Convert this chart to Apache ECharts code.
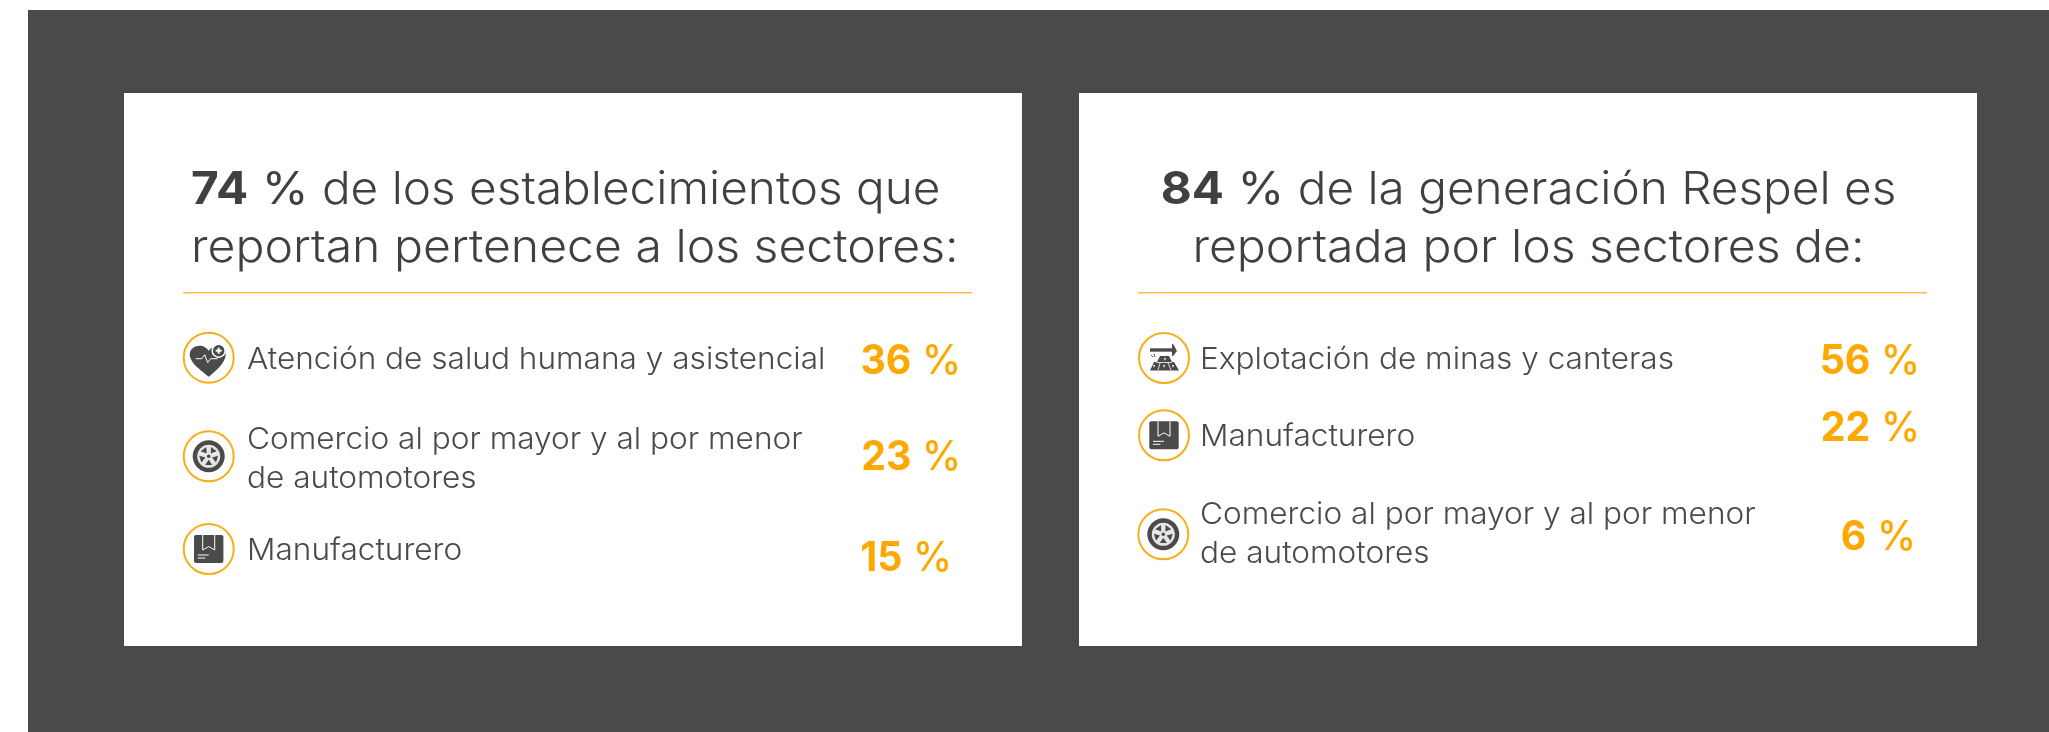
<!DOCTYPE html>
<html>
<head>
<meta charset="utf-8">
<style>
html,body{margin:0;padding:0;background:#fff}
#main{width:2049px;height:732px}
</style>
<script src="https://cdn.jsdelivr.net/npm/echarts@6/dist/echarts.min.js"></script>
</head>
<body>
<div id="main"></div>
<script>
// datos
var leftLabels = [['Atención de salud humana y asistencial'], ['Comercio al por mayor y al por menor', 'de automotores'], ['Manufacturero']];
var leftValues = [36, 23, 15];
var leftIcons = ['heart', 'tire', 'box'];
var rightLabels = [['Explotación de minas y canteras'], ['Manufacturero'], ['Comercio al por mayor y al por menor', 'de automotores']];
var rightValues = [56, 22, 6];
var rightIcons = ['mine', 'box', 'tire'];
var leftTotal = 74;
var rightTotal = 84;

var dark = '#4a4a4a';
var orange = '#ffa800';
var ring = '#f7ae1c';
var rule = '#f8bd48';
var font = 'Inter';

var g = [];

echarts.graphic.registerShape('heartIcon', echarts.graphic.extendPath(
    'M0 19 C-6 14 -19 5 -19 -3 C-19 -9 -14 -12 -9 -12 C-5 -12 -2 -10 0 -7 C2 -10 5 -12 9 -12 C14 -12 17 -9 17 -3 C17 5 6 14 0 19 Z'));

function rect(x, y, w, h, fill, r) {
    return {type: 'rect', shape: {x: x, y: y, width: w, height: h, r: r || 0}, style: {fill: fill}};
}
// y es la linea base del texto, sx estira el ancho (la fuente original es mas ancha)
function text(x, y, str, size, color, weight, align, sx) {
    return {type: 'text', x: x, y: y - size * 0.36, scaleX: sx || 1, style: {text: str, fontFamily: font, fontSize: size, fill: color,
        fontWeight: weight || 400, align: align || 'left', verticalAlign: 'middle'}};
}
function richText(x, y, bold, pct, rest, size, color, pctWeight, align, sx) {
    return {type: 'text', x: x, y: y - size * 0.36, scaleX: sx, style: {
        text: '{b|' + bold + '}{p| %}' + (rest ? '{n| ' + rest + '}' : ''), align: align, verticalAlign: 'middle',
        rich: {
            b: {fontFamily: font, fontSize: size, fontWeight: 700, fill: color},
            p: {fontFamily: font, fontSize: size, fontWeight: pctWeight, fill: color},
            n: {fontFamily: font, fontSize: size, fontWeight: 300, fill: color}
        }
    }};
}
function circle(r, fill, stroke, lw, cx, cy) {
    return {type: 'circle', shape: {cx: cx || 0, cy: cy || 0, r: r},
        style: {fill: fill, stroke: stroke || null, lineWidth: lw || 0}};
}
function poly(points, fill) {
    return {type: 'polygon', shape: {points: points}, style: {fill: fill}};
}
function line(x1, y1, x2, y2, color, lw) {
    return {type: 'line', shape: {x1: x1, y1: y1, x2: x2, y2: y2}, style: {stroke: color, lineWidth: lw}};
}

// iconos dibujados alrededor de (0,0)
var iconParts = {
    heart: function () {
        return [
            {type: 'heartIcon', style: {fill: dark}},
            {type: 'polyline', shape: {points: [[-13, 1], [-7, 1], [-4, -3], [-1, 5], [2, 1], [9, 1]]}, style: {stroke: '#fff', lineWidth: 1, fill: null}},
            circle(6.5, dark, '#fff', 1.5, 10, -7),
            rect(7, -8, 6, 2, '#fff'),
            rect(9, -10, 2, 6, '#fff')
        ];
    },
    tire: function () {
        var parts = [circle(16, dark), circle(11.5, '#e6e6e6'), circle(1.8, dark)];
        for (var i = 0; i < 5; i++) {
            var a = (i * 72 + 90) * Math.PI / 180, d = 0.38;
            parts.push(poly([
                [3.5 * Math.cos(a), 3.5 * Math.sin(a)],
                [9.5 * Math.cos(a - d), 9.5 * Math.sin(a - d)],
                [9.5 * Math.cos(a + d), 9.5 * Math.sin(a + d)]
            ], dark));
        }
        return parts;
    },
    box: function () {
        return [
            rect(-14.7, -14, 29.4, 28, dark, 2),
            {type: 'polyline', shape: {points: [[-6, -14], [-6, 1], [0, -2.5], [6, 1], [6, -14]]}, style: {stroke: '#fff', lineWidth: 1, fill: null}},
            rect(-11, 5.5, 11, 1, '#fff'),
            rect(-11, 8.5, 7.5, 1, '#fff')
        ];
    },
    mine: function () {
        return [
            // martillo
            poly([[-14, -9.7], [8, -9.7], [8, -6.3], [-14, -6.3]], dark),
            poly([[8, -14], [9, -14], [13, -7], [9, -2], [8, -2]], dark),
            // lingotes
            poly([[-4, -2], [5, -2], [8, 4], [10, 4], [15, 12.5], [-14, 12.5], [-10, 4], [-7, 4]], dark),
            line(-7.5, 4.5, 8, 4.5, '#fff', 0.8),
            line(-4, 5, -6, 12, '#fff', 0.8),
            line(4, 5, 7, 12, '#fff', 0.8),
            poly([[0, 0], [2, 0], [1, 3]], '#fff'),
            poly([[-11, 7], [-9, 7], [-10, 10]], '#fff'),
            poly([[-1, 7], [1, 7], [0, 10]], '#fff'),
            poly([[8, 7], [10, 7], [9, 10]], '#fff'),
            // chispas
            line(-13, -3, -11, -1, dark, 1),
            line(-10, -4, -9, -1, dark, 1)
        ];
    }
};

function icon(name, x, y) {
    return {type: 'group', x: x, y: y, children: [circle(25, '#fff', ring, 2)].concat(iconParts[name]())};
}

function panel(x, w) {
    g.push(rect(x, 93, w, 553, '#fff'));
}

function title(total, rest1, line2, x, align) {
    g.push(richText(x, 207, total, ' %', rest1, 45, '#404040', 400, align, 1.06));
    g.push(text(x, 265, line2, 45, '#404040', 300, align, 1.07));
}

function rows(labels, values, icons, rowY, iconX, labelX, valueX) {
    labels.forEach(function (lab, i) {
        var r = rowY[i];
        g.push(icon(icons[i], iconX[i], r.icon));
        lab.forEach(function (s, j) {
            g.push(text(labelX, r.text + j * 38.5, s, 30, dark, 300, 'left', 1.053));
        });
        g.push(richText(valueX[i], r.value, values[i], ' %', '', 41, orange, 500, 'right', 0.96));
    });
}

g.push(rect(28, 10, 2021, 722, dark));
panel(124, 898);
panel(1079, 898);
title(leftTotal, 'de los establecimientos que', 'reportan pertenece a los sectores:', 191, 'left');
title(rightTotal, 'de la generación Respel es', 'reportada por los sectores de:', 1528.5, 'center');
g.push(rect(183, 292, 789, 1.5, rule));
g.push(rect(1138, 292, 789, 1.5, rule));

rows(leftLabels, leftValues, leftIcons,
    [{icon: 357.7, text: 371, value: 376}, {icon: 456.3, text: 451, value: 472}, {icon: 549, text: 562, value: 573}],
    [208.7, 208.7, 208.7], 247, [961, 961, 952]);
rows(rightLabels, rightValues, rightIcons,
    [{icon: 358, text: 371, value: 376}, {icon: 435.3, text: 448, value: 443}, {icon: 534.3, text: 526, value: 552}],
    [1164, 1164, 1163.3], 1200, [1920, 1920, 1916]);

var chart = echarts.init(document.getElementById('main'), null, {renderer: 'canvas'});
chart.setOption({animation: false, backgroundColor: '#fff', graphic: {elements: g}});
</script>
</body>
</html>
